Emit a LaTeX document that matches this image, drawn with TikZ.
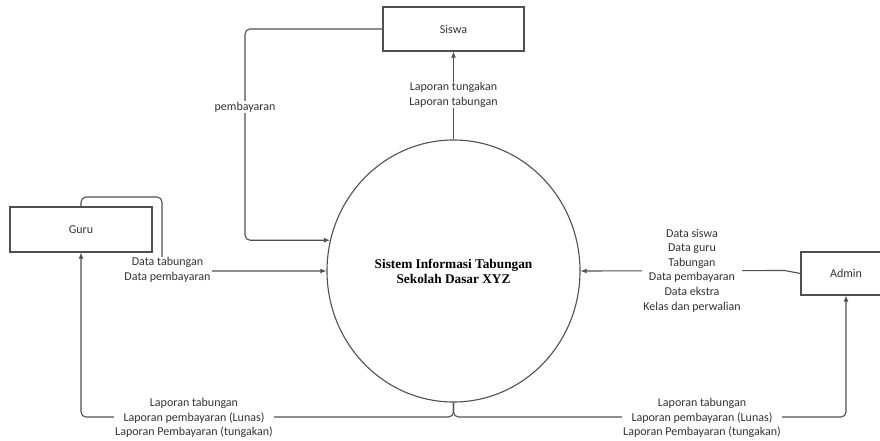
\documentclass[tikz,border=0pt]{standalone}
\usepackage{fontspec}
\setmainfont{Carlito}
\newfontfamily\titlefont{Liberation Serif}
\usetikzlibrary{arrows.meta,shapes.geometric}
\definecolor{lineg}{HTML}{505050}
\definecolor{textg}{HTML}{333333}
\tikzset{
  entity/.style={draw=lineg, line width=1.1pt, rectangle, inner sep=0pt, fill=white, text=textg, font=\fontsize{12}{14.5}\selectfont},
  proc/.style={draw=lineg, line width=1.1pt, ellipse, inner sep=0pt, minimum width=253pt, minimum height=262pt, align=center, font=\titlefont\bfseries\fontsize{13.3}{15}\selectfont},
  conn/.style={draw=lineg, line width=1.1pt, rounded corners=5pt},
  arr/.style={-{Latex[length=6pt,width=5pt]}},
  lbl/.style={fill=white, inner sep=1pt, align=center, text=textg, font=\fontsize{12}{14.6}\selectfont}
}
\begin{document}
\begin{tikzpicture}[x=1pt,y=-1pt]
\useasboundingbox (0,0) rectangle (880,441);
\clip (0,0) rectangle (880,441);
\fill[white] (0,0) rectangle (880,441);
% nodes
\node[entity, minimum width=141pt, minimum height=44pt] (siswa) at (453.5,29) {Siswa};
\node[entity, minimum width=142pt, minimum height=45pt] (guru) at (81,229.5) {Guru};
\node[entity, minimum width=90pt, minimum height=43pt] (admin) at (846,273.5) {Admin};
\node[proc] (sys) at (453.5,271) {Sistem Informasi Tabungan\\Sekolah Dasar XYZ};
% helper coordinates
\coordinate (cx1) at (245,0);
\coordinate (cx2) at (162,0);
\coordinate (cy1) at (0,197);
\coordinate (cyb) at (0,417);
% Siswa -> sistem (pembayaran)
\draw[conn,arr] (siswa.west) -| (cx1 |- sys.166) -- (sys.166);
\node[lbl] (lpb) at (245,107) {pembayaran};
% sistem -> Siswa
\draw[conn,arr] (sys.north) -- (siswa.south);
\node[lbl] (lsw) at (453.5,95) {Laporan tungakan\\Laporan tabungan};
% Guru -> sistem
\draw[conn,arr] (guru.north) |- (cx2 |- cy1) -- (cx2 |- sys.west) -- (sys.west);
\node[lbl] (lgu) at (167.5,270) {Data tabungan\\Data pembayaran};
% Admin -> sistem
\draw[conn,arr,rounded corners=0pt] (admin.west) -- ++(-16,-3) -- (sys.east);
\node[lbl] (lad) at (692,270.5) {Data siswa\\Data guru\\Tabungan\\Data pembayaran\\Data ekstra\\Kelas dan perwalian};
% sistem -> Guru, Admin
\draw[conn,arr] (sys.south) |- (guru.south |- cyb) -- (guru.south);
\draw[conn,arr] (sys.south) |- (admin.south |- cyb) -- (admin.south);
\node[lbl] (lbl1) at (194,418) {Laporan tabungan\\Laporan pembayaran (Lunas)\\Laporan Pembayaran (tungakan)};
\node[lbl] (lbl2) at (702,418) {Laporan tabungan\\Laporan pembayaran (Lunas)\\Laporan Pembayaran (tungakan)};
\end{tikzpicture}
\end{document}
